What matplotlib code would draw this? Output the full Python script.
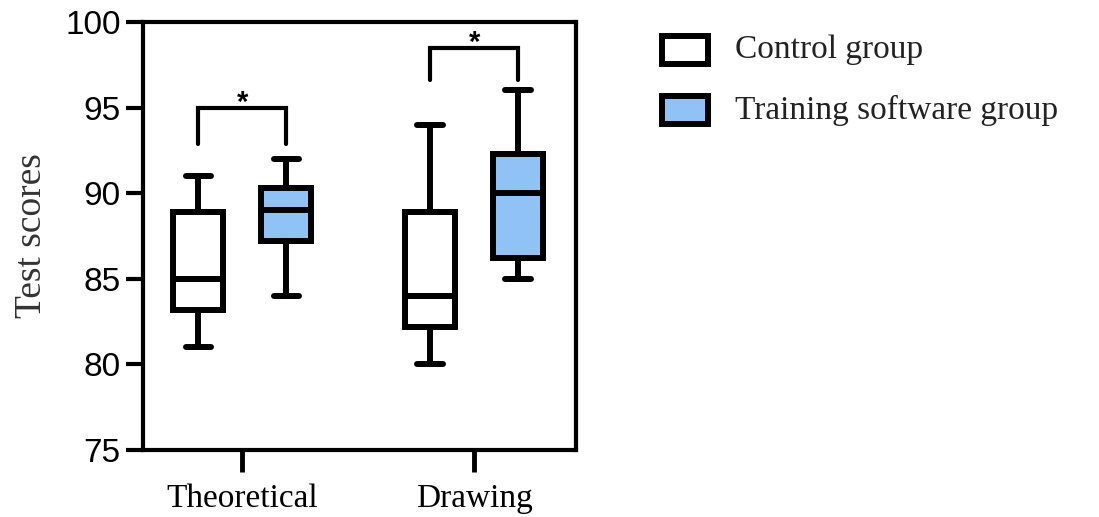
import matplotlib.pyplot as plt
from matplotlib.patches import Rectangle

# --- dados ---
grupos = ["Theoretical", "Drawing"]
series = ["Control group", "Training software group"]
cores = ["white", "#91C2F6"]

# [whislo, q1, med, q3, whishi] para cada grupo
controle = [[81, 83.2, 85, 88.9, 91], [80, 82.2, 84, 88.9, 94]]
treino = [[84, 87.2, 89, 90.3, 92], [85, 86.2, 90, 92.3, 96]]

# colchetes de significância: (altura topo, altura pernas)
sig_topo = [95.0, 98.5]
sig_pernas = [92.9, 96.6]

fig = plt.figure(figsize=(10.99, 5.17), dpi=100)
ax = fig.add_axes([0.1301, 0.1296, 0.3940, 0.8278])

desloc = 0.19
larg = 0.215
lw = 4.3

for k, (dados, cor) in enumerate(zip([controle, treino], cores)):
    stats = []
    for v in dados:
        stats.append(dict(whislo=v[0], q1=v[1], med=v[2], q3=v[3], whishi=v[4], fliers=[]))
    pos = [i + 1 + (desloc if k else -desloc) for i in range(len(grupos))]
    ax.bxp(stats, positions=pos, widths=larg, capwidths=0.11, patch_artist=True,
           showfliers=False, manage_ticks=False,
           boxprops=dict(facecolor=cor, edgecolor="black", linewidth=lw),
           medianprops=dict(color="black", linewidth=lw),
           whiskerprops=dict(color="black", linewidth=lw),
           capprops=dict(color="black", linewidth=lw, solid_capstyle="round"))

for i in range(len(grupos)):
    x1, x2 = i + 1 - desloc, i + 1 + desloc
    ax.plot([x1, x1, x2, x2], [sig_pernas[i], sig_topo[i], sig_topo[i], sig_pernas[i]],
            color="black", lw=3, solid_capstyle="round", solid_joinstyle="miter")
    ax.text(i + 1, sig_topo[i] - 0.2, "*", ha="center", va="baseline",
            fontsize=21, fontweight="bold", family="Liberation Sans")

ax.set_xlim(0.571, 2.44)
ax.set_ylim(75, 100)
ax.set_yticks([75, 80, 85, 90, 95, 100])
ax.set_xticks([1, 2])
ax.set_xticklabels(grupos, family="Liberation Serif", fontsize=24)
for t in ax.get_yticklabels():
    t.set_family("Liberation Sans")
    t.set_fontsize(24)
ax.tick_params(axis="y", length=12, width=3, pad=4)
ax.tick_params(axis="x", length=16, width=3.5, pad=8)
for s in ax.spines.values():
    s.set_linewidth(3)
ax.set_ylabel("Test scores", family="Liberation Serif", fontsize=27, labelpad=12,
              color="#333333")

# --- legenda manual ---
W, H = 1099, 517
for j, (nome, cor) in enumerate(zip(series, cores)):
    yc = 50 + j * 60
    fig.add_artist(Rectangle((662 / W, 1 - (yc + 14) / H), 46 / W, 28 / H,
                             transform=fig.transFigure, facecolor=cor,
                             edgecolor="black", linewidth=4.3))
    fig.text(735 / W, 1 - yc / H, nome, family="Liberation Serif", fontsize=24,
             va="center", ha="left", color="#222222")

fig.savefig("out.png", dpi=100)
